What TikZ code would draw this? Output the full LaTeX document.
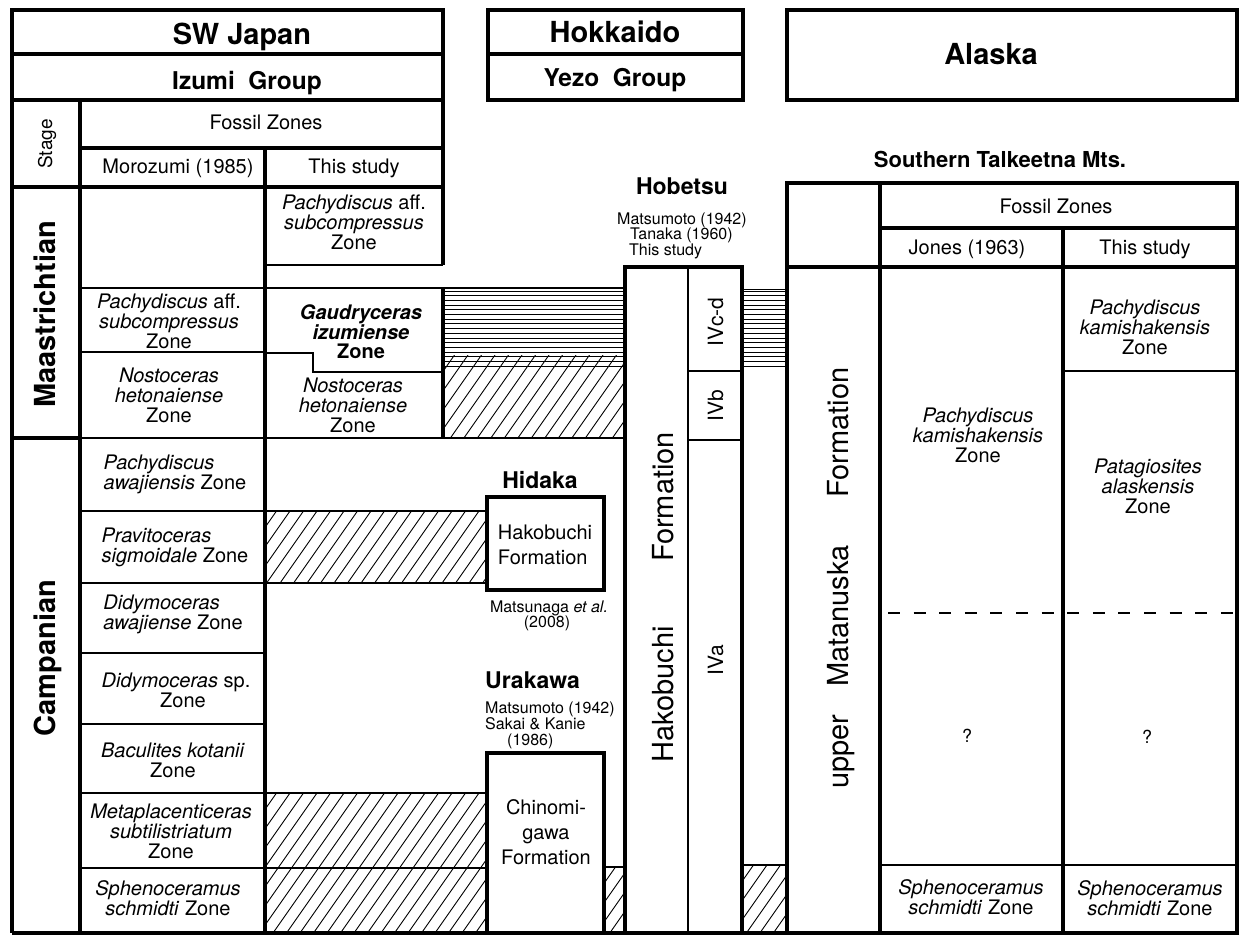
\documentclass[tikz,border=0pt]{standalone}
\usepackage{fontspec}
\setmainfont{TeX Gyre Heros}
\newcommand{\myhatch}[4]{%
 \begin{scope}
 \clip (#1,#2) rectangle (#3,#4);
 \pgfmathsetmacro{\hh}{((#4)-(#2))*0.7}
 \pgfmathsetmacro{\xs}{(#1)-\hh-2}
 \pgfmathtruncatemacro{\nn}{((#3)-\xs)/13.5+1}
 \foreach \i in {0,...,\nn}{\draw[hl] ({\xs+13.5*\i},#4) -- ({\xs+13.5*\i+\hh},#2);}
 \end{scope}}
\newcommand{\myhhatch}[4]{%
 \pgfmathtruncatemacro{\nn}{((#4)-(#2))/4.7}
 \foreach \i in {0,...,\nn}{\draw[hl] (#1,{#2+4.7*\i}) -- (#3,{#2+4.7*\i});}}
\begin{document}
\begin{tikzpicture}[x=1pt,y=-1pt,
  thk/.style={line width=4.3pt},
  thn/.style={line width=2.2pt},
  med/.style={line width=2.8pt},
  hl/.style={line width=0.9pt},
  dsh/.style={line width=2.5pt, dash pattern=on 12pt off 13.6pt},
  hdr/.style={font=\fontsize{29}{32}\selectfont\bfseries, inner sep=0pt},
  grp/.style={font=\fontsize{24.5}{27}\selectfont\bfseries, inner sep=0pt},
  loc/.style={font=\fontsize{23}{26}\selectfont\bfseries, inner sep=0pt},
  sth/.style={font=\fontsize{22}{25}\selectfont\bfseries, inner sep=0pt},
  reg/.style={font=\fontsize{20}{22}\selectfont, inner sep=0pt},
  ref/.style={font=\fontsize{16}{15}\selectfont, inner sep=0pt},
  zone/.style={font=\fontsize{20}{20}\selectfont, inner sep=0pt, align=center},
  zonel/.style={font=\fontsize{20}{20}\selectfont, inner sep=0pt, align=left},
  big/.style={font=\fontsize{29}{32}\selectfont, inner sep=0pt, rotate=90, anchor=base},
  bigb/.style={font=\fontsize{29}{32}\selectfont\bfseries, inner sep=0pt, rotate=90, anchor=base},
  sub/.style={font=\fontsize{21}{23}\selectfont, inner sep=0pt, rotate=90, anchor=base},
  form/.style={font=\fontsize{20}{25}\selectfont, inner sep=0pt},
]
\useasboundingbox (0,0) rectangle (1239,936);
\fill[white] (0,0) rectangle (1239,936);

% ---------- hatching ----------
\myhhatch{443}{291}{625}{370}
\myhatch{443}{355}{625}{438}
\myhhatch{742}{291}{787}{370}
\myhatch{265}{511}{487}{583}
\myhatch{265}{793}{487}{933}
\myhatch{604}{867}{625}{933}
\myhatch{742}{865}{787}{933}

% ---------- SW Japan table ----------
\draw[thk] (12,10) rectangle (443,100);
\draw[thk] (12,54) -- (443,54);
\draw[thk] (12,100) -- (12,933);
\draw[thk] (80,100) -- (80,933);
\draw[thk] (443,100) -- (443,265);
\draw[thk] (80,148) -- (443,148);
\draw[thk] (265,148) -- (265,933);
\draw[thk] (12,187) -- (443,187);
\draw[med] (265,265) -- (443,265);
\draw[thn] (80,288) -- (625,288);
\draw[thn] (80,352) -- (265,352);
\draw[thk] (12,438) -- (80,438);
\draw[thn] (80,438) -- (625,438);
\draw[thk] (443,288) -- (443,438);
\draw[thn] (265,353) -- (313,353) -- (313,372) -- (443,372);
\draw[thn] (80,511) -- (487,511);
\draw[thn] (80,583) -- (487,583);
\draw[thn] (80,653) -- (265,653);
\draw[thn] (80,724) -- (265,724);
\draw[thn] (80,793) -- (487,793);
\draw[thn] (80,868) -- (487,868);
\draw[thk] (12,933) -- (1237,933);

% ---------- Hokkaido ----------
\draw[thk] (488,10) rectangle (743,100);
\draw[thk] (488,54) -- (743,54);
\draw[thk] (487,497) rectangle (604,590);
\draw[thk] (487,753) rectangle (604,933);
\draw[thn] (604,867) -- (625,867);
\draw[thk] (625,267) rectangle (742,933);
\draw[thn] (688,267) -- (688,933);
\draw[thn] (688,371) -- (742,371);
\draw[thn] (688,440) -- (742,440);
\draw[thn] (742,865) -- (787,865);
\draw[hl] (742,289) -- (787,289);

% ---------- Alaska ----------
\draw[thk] (787,10) rectangle (1237,100);
\draw[thk] (787,183) rectangle (1237,933);
\draw[thk] (880,183) -- (880,933);
\draw[thk] (880,228) -- (1237,228);
\draw[thk] (1063,228) -- (1063,933);
\draw[thk] (787,267) -- (1237,267);
\draw[thn] (1063,371) -- (1237,371);
\draw[dsh] (888,613) -- (1237,613);
\draw[thn] (880,865) -- (1237,865);

% ---------- header texts ----------
\node[hdr, anchor=base] (swj) at (242,45) {SW Japan};
\node[grp, anchor=base] (izu) at (247,90) {Izumi\hspace{0.55em}Group};
\node[hdr, anchor=base] (hok) at (615,43) {Hokkaido};
\node[grp, anchor=base] (yez) at (615,87) {Yezo\hspace{0.55em}Group};
\node[hdr, anchor=base] (ala) at (991,65) {Alaska};
\node[sth, anchor=base] (stm) at (1000,168) {Southern Talkeetna Mts.};

\node[reg, rotate=90, anchor=base, font=\fontsize{19}{21}\selectfont] (stg) at (52,144) {Stage};
\node[reg, anchor=base] (fz1) at (266,130) {Fossil Zones};
\node[reg, anchor=base] (mor) at (178,174) {Morozumi (1985)};
\node[reg, anchor=base] (ts1) at (354,174) {This study};
\node[reg, anchor=base] (fz2) at (1056,214) {Fossil Zones};
\node[reg, anchor=base] (jon) at (967,254) {Jones (1963)};
\node[reg, anchor=base] (ts2) at (1145,254) {This study};

\node[bigb] (maa) at (55,314.5) {Maastrichtian};
\node[bigb] (cam) at (55,658) {Campanian};

% ---------- Morozumi zones ----------
\node[zone] (m1) at (169,321) {\textit{Pachydiscus} aff.\\\textit{subcompressus}\\Zone};
\node[zone] (m2) at (169,395) {\textit{Nostoceras}\\\textit{hetonaiense}\\Zone};
\node[zonel] (m3) at (175,474) {\textit{Pachydiscus}\\\textit{awajiensis} Zone};
\node[zonel] (m4) at (175,547) {\textit{Pravitoceras}\\\textit{sigmoidale} Zone};
\node[zonel] (m5) at (173,614) {\textit{Didymoceras}\\\textit{awajiense} Zone};
\node[zone] (m6) at (176,690) {\textit{Didymoceras} sp.\\\hspace*{14pt}Zone};
\node[zone] (m7) at (173,760) {\textit{Baculites kotanii}\\Zone};
\node[zone] (m8) at (171,831) {\textit{Metaplacenticeras}\\\textit{subtilistriatum}\\Zone};
\node[zone] (m9) at (168,898) {\textit{Sphenoceramus}\\\textit{schmidti} Zone};

% ---------- This study zones ----------
\node[zone, font=\fontsize{20}{18}\selectfont] (t1) at (354,222) {\textit{Pachydiscus} aff.\\\textit{subcompressus}\\Zone};
\node[zone, font=\fontsize{20}{19.5}\selectfont\bfseries] (t2) at (361,332) {\textit{Gaudryceras}\\\textit{izumiense}\\Zone};
\node[zone] (t3) at (353,405) {\textit{Nostoceras}\\\textit{hetonaiense}\\Zone};

% ---------- Hokkaido texts ----------
\node[loc, anchor=base] (hob) at (682,195) {Hobetsu};
\node[ref, anchor=base west] (hr1) at (617,225) {Matsumoto (1942)};
\node[ref, anchor=base west] (hr2) at (630,240) {Tanaka (1960)};
\node[ref, anchor=base west] (hr3) at (629,255) {This study};
\node[big] (hfm) at (673,497) {Formation};
\node[big] (hhk) at (673,694.5) {Hakobuchi};
\node[sub] (ivcd) at (723,322) {IVc-d};
\node[sub] (ivb) at (723,406) {IVb};
\node[sub] (iva) at (723,660) {IVa};

\node[loc, anchor=base] (hid) at (540,488) {Hidaka};
\node[form, align=left] (hkf) at (545,545) {Hakobuchi\\Formation};
\node[ref, anchor=base] (mts) at (549,612) {Matsunaga \textit{et al.}};
\node[ref, anchor=base] (mty) at (547,627) {(2008)};

\node[loc, anchor=base west] (ura) at (485,688) {Urakawa};
\node[ref, anchor=base west] (ur1) at (485,713) {Matsumoto (1942)};
\node[ref, anchor=base west] (ur2) at (485,729) {Sakai \& Kanie};
\node[ref, anchor=base west] (ur3) at (507,745) {(1986)};
\node[form, align=center] (chi) at (546,832) {Chinomi-\\gawa\\Formation};

% ---------- Alaska texts ----------
\node[big] (afm) at (848,432.5) {Formation};
\node[big] (amt) at (848,616) {Matanuska};
\node[big] (aup) at (848,751.5) {upper};
\node[zone] (a1) at (978,435) {\textit{Pachydiscus}\\\textit{kamishakensis}\\Zone};
\node[zone] (a2) at (1145,327) {\textit{Pachydiscus}\\\textit{kamishakensis}\\Zone};
\node[zone] (a3) at (1148,486) {\textit{Patagiosites}\\\textit{alaskensis}\\Zone};
\node[reg, font=\fontsize{18}{20}\selectfont] (q1) at (967,736) {?};
\node[reg, font=\fontsize{18}{20}\selectfont] (q2) at (1147,737) {?};
\node[zone] (a4) at (971,897) {\textit{Sphenoceramus}\\\textit{schmidti} Zone};
\node[zone] (a5) at (1150,898) {\textit{Sphenoceramus}\\\textit{schmidti} Zone};
\end{tikzpicture}
\end{document}
